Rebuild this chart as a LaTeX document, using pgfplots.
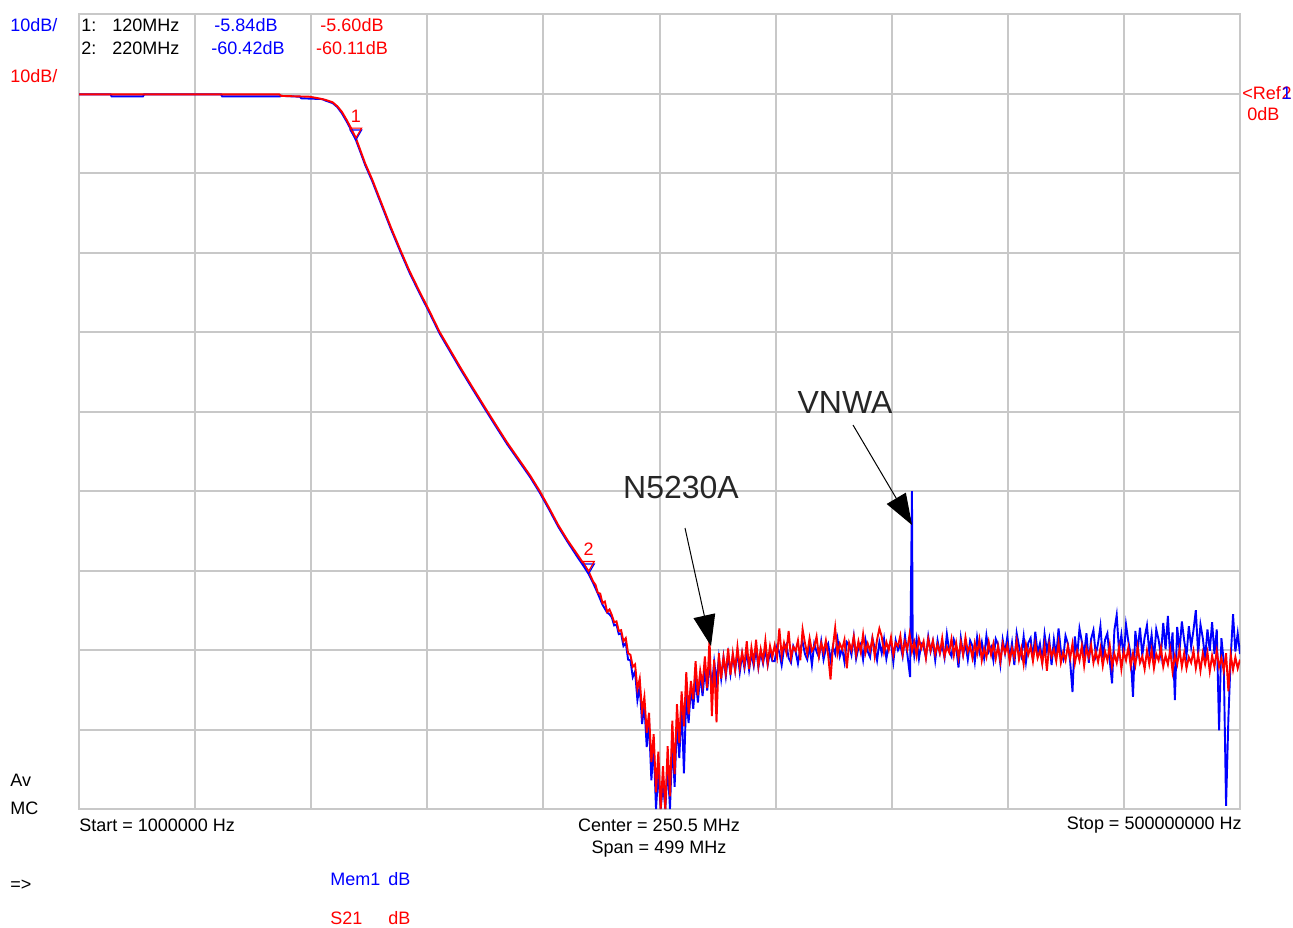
\documentclass[border=0pt]{standalone}
\usepackage{pgfplots}
\pgfplotsset{compat=1.18}
\usepackage{fontspec}
\setmainfont{Liberation Sans}
\usetikzlibrary{arrows.meta}
\definecolor{gridgray}{RGB}{200,200,200}
\definecolor{trblue}{RGB}{0,0,255}
\definecolor{trred}{RGB}{255,0,0}
\newcommand\sm{\fontsize{9}{10}\selectfont}
\newcommand\bg{\fontsize{16}{18}\selectfont}
\begin{document}
\begin{tikzpicture}
\useasboundingbox (0pt,0pt) rectangle (646.5pt,-463.5pt);
\begin{axis}[
  at={(39.5pt,-404.5pt)}, anchor=south west,
  scale only axis, width=580.5pt, height=397.5pt,
  xmin=1, xmax=500, ymin=-90, ymax=10,
  xtick={1,50.9,100.8,150.7,200.6,250.5,300.4,350.3,400.2,450.1,500},
  ytick={-90,-80,-70,-60,-50,-40,-30,-20,-10,0,10},
  xticklabels={}, yticklabels={},
  major tick length=0pt,
  grid=major,
  major grid style={draw=gridgray, line width=1pt},
  axis line style={draw=gridgray, line width=1pt},
  clip=true,
]
% Mem1 (blue)
\addplot[trblue, line width=0.95pt] coordinates {
(1,-0.1) (14.5,-0.1) (15,-0.35) (28.5,-0.35) (29,-0.1) (62,-0.1) (62.5,-0.35) (87.5,-0.35) (88,-0.3) (96,-0.4) (96.5,-0.6) (105.5,-0.7) (107,-0.9) (110,-1.2) (112,-1.7) (114,-2.5) (116,-3.5) (118,-4.6) (120,-5.84) (122,-7.4) (124,-9.0) (127,-11.0) (131,-14.0) (135,-17.0) (139,-19.8) (143,-22.5) (147.5,-25.2) (151,-27.2) (156,-30.2) (160,-32.2) (165,-34.7) (170,-37.1) (175.5,-39.7) (180,-41.8) (185,-44.1) (190,-46.2) (195,-48.3) (199,-50.2) (203,-52.3) (207,-54.5) (211,-56.4) (215,-58.2) (218,-59.5) (220,-60.42) (222,-61.6) (224,-62.9) (226,-64.3) (228,-65.3) (229,-65.5)
(230,-65.9) (231,-66.9) (232,-66.8) (233,-68.0) (234,-67.9) (235,-69.5) (236,-69.1) (237,-71.2) (238,-71.3) (239,-73.4) (240,-72.7) (241,-76.3) (242,-74.5) (243,-79.3) (244,-76.9) (245,-82.2) (246,-79.1) (247,-86.4) (248,-82.0) (249,-90) (250,-85.3) (251,-90) (252,-86.9) (253,-90) (254,-84.5) (255,-90) (256,-81.4) (257,-87.2) (258,-78.7) (259,-83.6) (260,-76.9) (261,-85.5) (262,-75.6) (263,-79.2) (264,-74.6) (265,-77.4) (266,-73.5) (267,-76.6) (268,-73.0) (269,-75.8) (270,-72.4) (271,-75.1) (272,-71.7) (273,-74.6) (274,-71.5) (275,-74.0) (276,-71.0) (277,-73.6) (278,-70.9) (279,-73.3) (280,-70.6) (281,-73.0) (282,-70.7) (283,-72.6) (284,-70.2) (285,-72.8) (286,-70.5) (287,-72.3) (288,-70.1) (289,-72.5) (290,-70.4) (291,-72.0) (292,-69.8) (293,-72.2) (294,-70.3) (295,-71.7) (296,-69.9) (297,-71.9) (298,-70.2) (299,-71.4)
(300,-71.4) (301,-69.6) (302,-70.3) (303,-71.9) (304,-69.8) (305,-69.3) (306,-71.0) (307,-71.6) (308,-69.5) (309,-70.2) (310,-71.7) (311,-69.8) (312,-69.0) (313,-70.5) (314,-71.2) (315,-69.5) (316,-71.9) (317,-69.2) (318,-70.2) (319,-70.9) (320,-68.9) (321,-71.2) (322,-69.8) (323,-69.2) (324,-71.3) (325,-69.6) (326,-70.5) (327,-68.6) (328,-70.8) (329,-69.8) (330,-71.5) (331,-69.0) (332,-69.4) (333,-70.6) (334,-68.3) (335,-71.1) (336,-69.7) (337,-69.2) (338,-71.2) (339,-68.7) (340,-70.2) (341,-70.9) (342,-68.5) (343,-69.8) (344,-71.3) (345,-69.0) (346,-70.4) (347,-68.6) (348,-71.1) (349,-69.5) (350,-69.1) (351,-71.5) (352,-68.8) (353,-70.0) (354,-69.3) (355,-70.8) (356,-68.2) (357,-70.5) (358.2,-73.4) (358.6,-61.5) (359,-50) (359.3,-68.5) (360,-70.7) (361,-68.6) (362,-71.1) (363,-69.2) (364,-69.6) (365,-70.9) (366,-68.3) (367,-70.2) (368,-68.9) (369,-71.3) (370,-68.8) (371,-70.4) (372,-69.4) (373,-71.0) (374,-68.0) (375,-70.1) (376,-70.8) (377,-68.7) (378,-69.6) (379,-72.2) (380,-68.5) (381,-70.6) (382,-69.2) (383,-71.2) (384,-68.8) (385,-69.5) (386,-71.5) (387,-68.4) (388,-70.3) (389,-69.0) (390,-71.0) (391,-68.2) (392,-70.2) (393,-69.6) (394,-71.3) (395,-68.6) (396,-69.3) (397,-71.8) (398,-68.7) (399,-70.4)
(400,-68.3) (401,-71.1) (402,-69.1) (403,-71.9) (404,-67.9) (405,-69.5) (406,-70.7) (407,-68.3) (408,-71.5) (409,-69.1) (410,-68.5) (411,-71.2) (412,-67.7) (413,-70.4) (414,-69.2) (415,-71.5) (416,-68.0) (417,-70.1) (418,-68.6) (419,-71.9) (420,-68.7) (421,-70.8) (422,-67.3) (423,-70.1) (424,-71.1) (425,-68.2) (426,-69.2) (427,-71.5) (428,-75.3) (429,-68.3) (430,-70.8) (431,-67.3) (432,-68.9) (433,-70.5) (434,-67.9) (435,-71.6) (436,-68.6) (437,-67.5) (438,-70.6) (439,-69.1) (440,-67.0) (441,-71.0) (442,-68.7) (443,-67.9) (444,-71.3) (445,-74.2) (446,-67.5) (447,-65.6) (448,-70.2) (449,-68.1) (450,-71.0) (451,-66.8) (452,-68.9) (453,-70.6) (454,-75.9) (455,-67.6) (456,-70.1) (457,-67.2) (458,-70.7) (459,-68.4) (460,-66.9) (461,-70.3) (462,-68.1) (463,-71.2) (464,-67.4) (465,-68.7) (466,-70.7) (467,-66.6) (468,-69.9) (469,-65.7) (470,-71.0) (471,-67.8) (472,-76.3) (473,-67.1) (474,-70.1) (475,-66.4) (476,-68.8) (477,-70.7) (478,-67.0) (479,-69.6) (480,-67.5) (481,-65.0) (482,-70.5) (483,-66.8) (484,-68.5) (485,-71.1) (486,-67.4) (487,-70.1) (488,-66.5) (489,-70.5) (490,-67.4) (491,-80.1) (492,-68.5) (493,-71.5) (494,-89.6) (495,-78.6) (496,-70.9) (497,-65.5) (498,-70.2) (499,-67.9) (500,-70.5)
};
% S21 (red)
\addplot[trred, line width=0.95pt] coordinates {
(1,-0.1) (87,-0.1) (88,-0.3) (100,-0.4) (104,-0.6) (107,-0.8) (110,-1.1) (112,-1.6) (114,-2.3) (116,-3.3) (118,-4.4) (120,-5.6) (122,-7.2) (124,-8.8) (127,-10.8) (131,-13.8) (135,-16.8) (139,-19.6) (143,-22.3) (147.5,-25.0) (151,-27.0) (156,-30.0) (160,-32.0) (165,-34.5) (170,-36.9) (175.5,-39.5) (180,-41.6) (185,-43.9) (190,-46.0) (195,-48.1) (199,-50.0) (203,-52.1) (207,-54.3) (211,-56.2) (215,-57.9) (218,-59.2) (220,-60.11) (222,-61.4) (223,-61.8) (224,-62.8) (225,-62.9) (226,-64.1) (227,-63.9) (228,-65.2) (229,-64.9)
(230,-65.6) (231,-66.5) (232,-66.4) (233,-67.6) (234,-67.5) (235,-68.9) (236,-68.5) (237,-70.4) (238,-70.6) (239,-72.1) (240,-71.8) (241,-74.9) (242,-73.6) (243,-77.8) (244,-75.9) (245,-80.4) (246,-77.9) (247,-84.1) (248,-80.6) (249,-87.9) (250,-82.8) (251,-90) (252,-84.6) (253,-90) (254,-82.1) (255,-88.4) (256,-78.9) (257,-85.6) (258,-76.8) (259,-81.7) (260,-75.2) (261,-79.6) (262,-72.8) (263,-78.1) (264,-73.9) (265,-76.2) (266,-71.4) (267,-75.7) (268,-72.6) (269,-74.4) (270,-70.8) (271,-74.8) (272,-68.6) (273,-78.3) (274,-71.2) (275,-79.1) (276,-70.4) (277,-73.6) (278,-70.9) (279,-72.9) (280,-69.8) (281,-73.1) (282,-70.4) (283,-72.5) (284,-69.6) (285,-72.2) (286,-70.3) (287,-71.9) (288,-68.9) (289,-72.4) (290,-69.7) (291,-71.6) (292,-68.7) (293,-72.0) (294,-69.9) (295,-71.4) (296,-68.8) (297,-71.7) (298,-69.5) (299,-70.9)
(300,-69.4) (301,-70.9) (302,-67.3) (303,-70.7) (304,-69.1) (305,-70.3) (306,-67.6) (307,-71.0) (308,-69.6) (309,-70.1) (310,-68.8) (311,-71.3) (312,-67.4) (313,-69.1) (314,-70.5) (315,-68.5) (316,-70.1) (317,-69.6) (318,-68.3) (319,-70.8) (320,-69.1) (321,-70.3) (322,-68.8) (323,-70.7) (324,-73.7) (325,-69.7) (326,-67.2) (327,-70.5) (328,-69.2) (329,-69.9) (330,-68.7) (331,-72.3) (332,-69.1) (333,-70.0) (334,-68.3) (335,-70.6) (336,-68.9) (337,-70.3) (338,-68.0) (339,-70.4) (340,-69.2) (341,-70.1) (342,-68.5) (343,-70.8) (344,-68.7) (345,-67.3) (346,-68.3) (347,-70.3) (348,-69.0) (349,-70.0) (350,-68.4) (351,-70.6) (352,-69.1) (353,-69.5) (354,-68.2) (355,-70.5) (356,-68.9) (357,-69.9) (358,-68.0) (359,-70.2) (360,-69.0) (361,-70.7) (362,-68.6) (363,-69.8) (364,-68.9) (365,-71.0) (366,-68.6) (367,-70.1) (368,-68.8) (369,-70.5) (370,-69.3) (371,-70.4) (372,-68.5) (373,-70.8) (374,-69.6) (375,-70.3) (376,-68.6) (377,-70.7) (378,-69.1) (379,-71.0) (380,-69.0) (381,-70.6) (382,-68.4) (383,-70.2) (384,-69.5) (385,-71.0) (386,-69.1) (387,-70.5) (388,-68.7) (389,-71.3) (390,-69.8) (391,-70.9) (392,-69.0) (393,-70.6) (394,-69.2) (395,-71.1) (396,-69.5) (397,-71.4) (398,-69.2) (399,-70.4)
(400,-69.4) (401,-71.4) (402,-69.8) (403,-70.9) (404,-68.9) (405,-71.2) (406,-69.8) (407,-71.8) (408,-69.3) (409,-70.6) (410,-69.6) (411,-71.4) (412,-69.2) (413,-71.0) (414,-70.1) (415,-71.7) (416,-69.5) (417,-72.6) (418,-69.3) (419,-70.8) (420,-69.9) (421,-71.4) (422,-69.1) (423,-71.6) (424,-70.3) (425,-71.3) (426,-69.5) (427,-71.0) (428,-69.2) (429,-71.7) (430,-70.1) (431,-71.3) (432,-69.5) (433,-72.0) (434,-69.8) (435,-70.9) (436,-69.4) (437,-71.6) (438,-70.2) (439,-71.5) (440,-69.8) (441,-72.0) (442,-70.2) (443,-71.3) (444,-69.4) (445,-72.1) (446,-70.5) (447,-71.6) (448,-69.7) (449,-72.4) (450,-70.2) (451,-71.3) (452,-69.7) (453,-72.0) (454,-70.4) (455,-71.9) (456,-69.6) (457,-71.6) (458,-70.8) (459,-72.4) (460,-70.1) (461,-71.8) (462,-70.0) (463,-72.3) (464,-70.5) (465,-71.3) (466,-69.7) (467,-72.1) (468,-70.7) (469,-71.8) (470,-70.0) (471,-72.7) (472,-70.7) (473,-71.8) (474,-69.9) (475,-72.1) (476,-70.4) (477,-72.3) (478,-70.9) (479,-71.6) (480,-70.1) (481,-72.3) (482,-70.6) (483,-72.6) (484,-70.4) (485,-71.8) (486,-70.3) (487,-72.7) (488,-70.7) (489,-72.1) (490,-70.1) (491,-72.1) (492,-71.0) (493,-72.6) (494,-70.4) (495,-75.2) (496,-70.6) (497,-72.5) (498,-70.9) (499,-72.3) (500,-71.2)
};
% marker triangles
\addplot[trblue, only marks, mark=triangle, mark size=3.3pt, line width=0.6pt, mark options={yshift=3.3pt, rotate=180}] coordinates {(120,-5.84) (220,-60.42)};
\addplot[trred, only marks, mark=triangle, mark size=3.3pt, line width=0.6pt, mark options={yshift=3.3pt, rotate=180}] coordinates {(120,-5.6) (220,-60.11)};
\node[trred, inner sep=0, font=\sm, yshift=11pt] at (axis cs:120,-5.6) {1};
\node[trred, inner sep=0, font=\sm, yshift=11pt] at (axis cs:220,-60.11) {2};
\end{axis}
\begin{scope}[x=0.5pt, y=-0.5pt, every node/.style={inner sep=0pt, font=\sm}]
% top-left scale labels
\node[anchor=west, trblue] at (10,25) {10dB/};
\node[anchor=west, trred] at (10,76) {10dB/};
% marker table
\node[anchor=west] at (81,25) {1:};
\node[anchor=west] at (112,25) {120MHz};
\node[anchor=west] at (81,48) {2:};
\node[anchor=west] at (112,48) {220MHz};
\node[trblue] at (246,25) {-5.84dB};
\node[trblue] at (248,48) {-60.42dB};
\node[trred] at (352,25) {-5.60dB};
\node[trred] at (352,48) {-60.11dB};
% reference
\node[anchor=west, trred] (rf) at (1242,93) {<Ref};
\node[anchor=west, trred] at (rf.east) {2};
\node[anchor=west, trblue] at (rf.east) {1};
\node[anchor=west, trred] at (1247,114) {0dB};
% left status
\node[anchor=west] at (10,780) {Av};
\node[anchor=west] at (10,808) {MC};
\node[anchor=west] at (10,885) {=>};
% frequency labels
\node[anchor=west] at (79,825) {Start = 1000000 Hz};
\node at (659,825) {Center = 250.5 MHz};
\node at (659,849) {Span = 499 MHz};
\node[anchor=east] at (1242,825) {Stop = 500000000 Hz};
% trace legend
\node[anchor=west, trblue] at (330,879) {Mem1};
\node[anchor=west, trblue] at (388,879) {dB};
\node[anchor=west, trred] at (330,918) {S21};
\node[anchor=west, trred] at (388,918) {dB};
% annotations
\node[font=\bg, text=black!85] at (845,402) {VNWA};
\node[font=\bg, text=black!85] at (681,487) {N5230A};
\draw[line width=0.5pt, -{Triangle[length=15.5pt, width=11pt]}] (853,425) -- (912,525);
\draw[line width=0.5pt, -{Triangle[length=15.5pt, width=11pt]}] (685,528) -- (711,646);
\end{scope}
\end{tikzpicture}
\end{document}
